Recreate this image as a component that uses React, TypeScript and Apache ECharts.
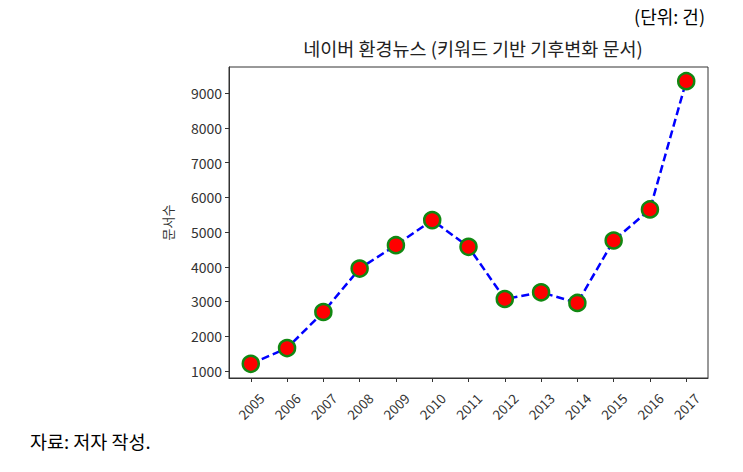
import React, { useEffect, useRef } from "react";
import * as echarts from "echarts";

const years = [2005, 2006, 2007, 2008, 2009, 2010, 2011, 2012, 2013, 2014, 2015, 2016, 2017];
const docCounts = [1200, 1655, 2696, 3948, 4622, 5345, 4574, 3071, 3264, 2956, 4757, 5653, 9353];
const yTicks = [1000, 2000, 3000, 4000, 5000, 6000, 7000, 8000, 9000];

const titleText = "네이버 환경뉴스 (키워드 기반 기후변화 문서)";
const unitText = "(단위: 건)";
const sourceText = "자료: 저자 작성.";
const yName = "문서수";

const FONT = "'Noto Sans CJK KR', 'Noto Sans', sans-serif";

export default function App() {
  const ref = useRef<HTMLDivElement>(null);
  useEffect(() => {
    if (!ref.current) return;
    const chart = echarts.init(ref.current, null, { renderer: "svg" });
    const data = years.map((y, i) => [y, docCounts[i]]);
    const yMinData = Math.min(...docCounts);
    const yMaxData = Math.max(...docCounts);
    const yPad = (yMaxData - yMinData) * 0.05;
    const xPad = (years[years.length - 1] - years[0]) * 0.05;
    chart.setOption({
      animation: false,
      backgroundColor: "#fff",
      textStyle: { fontFamily: FONT },
      title: {
        text: titleText,
        left: 468,
        top: 34,
        textAlign: "center",
        textStyle: { fontFamily: FONT, fontSize: 18.5, fontWeight: "normal", color: "#222" },
      },
      graphic: [
        {
          type: "text",
          right: 38,
          top: 7,
          style: { text: unitText, font: `normal 18px ${FONT}`, fill: "#000" },
        },
        {
          type: "text",
          left: 30,
          top: 432,
          style: { text: sourceText, font: `normal 18.5px ${FONT}`, fill: "#000" },
        },
      ],
      grid: {
        left: 229,
        right: 35,
        top: 67,
        bottom: 94,
        show: true,
        borderColor: "#333",
        borderWidth: 1,
        backgroundColor: "#fff",
      },
      xAxis: {
        type: "value",
        min: years[0] - xPad,
        max: years[years.length - 1] + xPad,
        splitLine: { show: false },
        axisLine: { show: true, lineStyle: { color: "#333" } },
        axisTick: { show: true, length: 4, customValues: years, lineStyle: { color: "#333" } },
        axisLabel: {
          customValues: years,
          rotate: 45,
          align: "center",
          verticalAlign: "middle",
          margin: 28,
          fontSize: 13.5,
          color: "#333",
          fontFamily: FONT,
          formatter: (v: number) => String(Math.round(v)),
        },
      },
      yAxis: {
        type: "value",
        min: yMinData - yPad,
        max: yMaxData + yPad,
        name: yName,
        nameLocation: "middle",
        nameGap: 55,
        nameRotate: 90,
        nameTextStyle: { fontSize: 13, color: "#333", fontFamily: FONT },
        splitLine: { show: false },
        axisLine: { show: true, lineStyle: { color: "#333" } },
        axisTick: { show: true, length: 4, customValues: yTicks, lineStyle: { color: "#333" } },
        axisLabel: {
          customValues: yTicks,
          fontSize: 14,
          color: "#333",
          margin: 7,
          fontFamily: FONT,
          formatter: (v: number) => String(Math.round(v)),
        },
      },
      series: [
        {
          type: "line",
          data,
          symbol: "circle",
          symbolSize: 16,
          lineStyle: { color: "#0000ff", width: 2.5, type: [8, 4] },
          itemStyle: { color: "#ff0000", borderColor: "#118811", borderWidth: 2.5 },
        },
      ],
    });
    return () => chart.dispose();
  }, []);
  return (
    <div
      ref={ref}
      style={{ position: "absolute", left: 0, top: 0, width: 743, height: 472 }}
    />
  );
}
